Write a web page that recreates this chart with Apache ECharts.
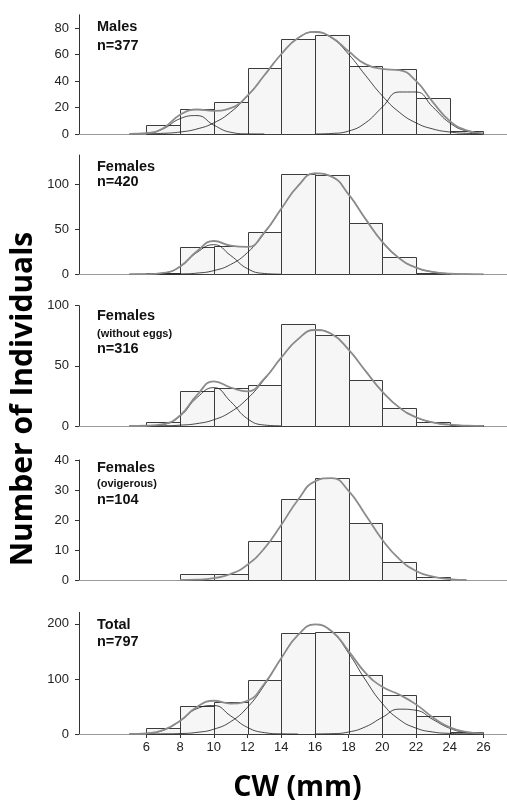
<!DOCTYPE html>
<html><head><meta charset="utf-8">
<script src="https://cdn.jsdelivr.net/npm/echarts@6/dist/echarts.min.js"></script>
<style>html,body{margin:0;padding:0;background:#fff;}#c{width:507px;height:802px;}</style>
</head><body><div id="c"></div>
<script>
// ---- histogram data (2 mm bins of carapace width) ----
const binStart = [6, 8, 10, 12, 14, 16, 18, 20, 22, 24];
const binWidth = 2;
const males       = [7, 19, 24, 50, 72, 75, 51, 49, 27, 2];
const females     = [2, 30, 32, 47, 112, 110, 57, 19, 2, 0];
const withoutEggs = [3, 29, 32, 34, 85, 76, 38, 15, 3, 1];
const ovigerous   = [0, 2, 2, 13, 27, 34, 19, 6, 1, 0];
const totalAll    = [10, 50, 58, 98, 183, 185, 108, 70, 32, 4];

// ---- fitted curves, read at 1 mm steps (null = not drawn) ----
const curveX = [5,6,7,8,9,10,11,12,13,14,15,16,17,18,19,20,21,22,23,24,25,26];
const maleA = [0.0,0.5,3.9,11.6,13.9,6.7,1.3,0.1,0.0,null,null,null,null,null,null,null,null,null,null,null,null,null];
const maleB = [0.0,0.2,0.5,1.5,3.8,8.4,16.5,28.8,44.3,60.2,72.4,77.0,72.4,60.2,44.3,28.8,16.5,8.4,3.8,1.5,0.5,0.2];
const maleC = [null,null,null,null,null,null,null,null,null,null,null,0.0,0.4,2.2,8.4,20.3,31.7,31.7,20.3,8.4,2.2,0.4];
const maleFit = [0.1,0.7,4.4,14.5,18.5,17.5,19.5,28.9,44.3,60.2,72.4,77.0,72.8,62.4,52.7,49.1,48.2,40.1,24.1,9.9,2.7,0.5];

const femA = [0.0,0.1,1.4,8.4,24.3,32.9,20.9,6.2,0.9,0.1,null,null,null,null,null,null,null,null,null,null,null,null];
const femB = [0.0,0.0,0.1,0.4,1.3,4.1,10.9,24.2,45.6,72.7,98.2,112.2,108.5,88.8,61.6,36.1,17.9,7.5,2.7,0.8,0.2,0.0];
const femFit = [0.0,0.1,1.5,8.8,25.6,37.0,31.8,30.4,46.5,72.8,98.2,112.2,108.5,88.8,61.6,36.1,17.9,7.5,2.7,0.8,0.2,0.0];

const woA = [0.0,0.1,1.3,8.2,23.6,31.9,20.3,6.0,0.8,0.1,null,null,null,null,null,null,null,null,null,null,null,null];
const woB = [0.0,0.1,0.2,0.7,2.0,5.2,11.7,22.8,38.6,56.7,72.2,79.8,76.4,63.5,45.8,28.6,15.5,7.3,3.0,1.1,0.3,0.1];
const woFit = [0.0,0.2,1.5,8.8,25.6,37.1,32.0,28.8,39.4,56.8,72.2,79.8,76.4,63.5,45.8,28.6,15.5,7.3,3.0,1.1,0.3,0.1];

const ovFit = [null,null,null,0.1,0.2,0.7,2.1,5.2,10.6,18.4,26.8,32.9,34.0,29.7,21.8,13.5,7.1,3.1,1.2,0.4,0.1,null];

const totA = [0.1,1.1,6.8,23.4,46.1,51.7,32.9,11.9,2.5,0.3,0.0,null,null,null,null,null,null,null,null,null,null,null];
const totB = [0.0,0.0,0.2,0.8,2.9,8.7,22.4,48.5,88.7,137.4,179.8,198.8,185.9,146.9,98.2,55.4,26.5,10.7,3.6,1.1,0.3,0.1];
const totC = [null,null,null,null,null,null,null,null,null,null,null,0.1,0.6,3.6,13.0,30.2,45.1,43.1,26.4,10.4,2.6,0.4];
const totFit = [0.1,1.2,7.0,24.2,49.0,60.4,55.3,60.4,91.2,137.7,179.8,198.9,186.5,150.5,111.2,85.6,71.6,53.8,30.0,12.0,4.0,1.0];

// ---- axis ticks ----
const xTickValues = [6,8,10,12,14,16,18,20,22,24,26];
const yTicks = [[0,20,40,60,80],[0,50,100],[0,50,100],[0,10,20,30,40],[0,100,200]];
const yMax = [90, 132.6, 100, 40, 221];

// ---- panel labels ----
const panelLabels = [
  [['Males','big'],['n=377','big']],
  [['Females','big'],['n=420','big']],
  [['Females','big'],['(without eggs)','small'],['n=316','big']],
  [['Females','big'],['(ovigerous)','small'],['n=104','big']],
  [['Total','big'],['n=797','big']]
];
const yTitle = 'Number of Individuals';
const xTitle = 'CW (mm)';

// ---- layout ----
const layout = [
  {top: 14.75, height: 119.25, labelY: [19.8, 38.8]},
  {top: 155,   height: 119.3,  labelY: [159.8, 174.8]},
  {top: 305.7, height: 120.3,  labelY: [308.1, 328.6, 341.4]},
  {top: 460,   height: 120.3,  labelY: [460.8, 478.5, 492.1]},
  {top: 612.3, height: 121.7,  labelY: [617.4, 634.8]}
];
const panelBars = [males, females, withoutEggs, ovigerous, totalAll];
const panelComps = [[maleA, maleB, maleC],[femA, femB],[woA, woB],[],[totA, totB, totC]];
const panelFits = [maleFit, femFit, woFit, ovFit, totFit];

const FONT = '"Liberation Sans", Arial, sans-serif';
const grids = [], xAxes = [], yAxes = [], series = [], graphics = [];

function toLine(arr){
  const d = [];
  curveX.forEach((x,i)=>{ if (arr[i] !== null) d.push([x, arr[i]]); });
  return d;
}

layout.forEach((L, p) => {
  const isLast = p === layout.length - 1;
  grids.push({left: 79, right: 0, top: L.top, height: L.height, containLabel: false});
  xAxes.push({
    type: 'value', gridIndex: p, min: 2, max: 27.4, interval: 2,
    splitLine: {show: false},
    axisLine: {show: true, lineStyle: {color: '#9a9a9a', width: 1}},
    axisTick: {show: isLast, length: 4, lineStyle: {color: '#333'}, customValues: xTickValues},
    axisLabel: {show: isLast, customValues: xTickValues, margin: 7, fontFamily: FONT, fontSize: 13, color: '#222',
      formatter: v => (xTickValues.indexOf(v) >= 0 ? String(v) : '')}
  });
  const yt = yTicks[p];
  yAxes.push({
    type: 'value', gridIndex: p, min: 0, max: yMax[p], interval: yt[1] - yt[0],
    splitLine: {show: false},
    axisLine: {show: true, lineStyle: {color: '#333', width: 1}},
    axisTick: {show: true, length: 4, lineStyle: {color: '#333'}, customValues: yt},
    axisLabel: {customValues: yt, margin: 10, fontFamily: FONT, fontSize: 13, color: '#222',
      formatter: v => (yt.indexOf(v) >= 0 ? String(v) : '')}
  });
  const barData = [];
  binStart.forEach((b, i) => { if (panelBars[p][i] > 0) barData.push([b, b + binWidth, panelBars[p][i]]); });
  series.push({
    type: 'custom', xAxisIndex: p, yAxisIndex: p, silent: true, z: 2,
    encode: {x: [0, 1], y: 2},
    data: barData,
    renderItem: function (params, api) {
      const a = api.coord([api.value(0), api.value(2)]);
      const b = api.coord([api.value(1), 0]);
      const x0 = Math.round(a[0]) + 0.5, x1 = Math.round(b[0]) + 0.5;
      const y0 = Math.round(a[1]) + 0.5, y1 = Math.round(b[1]) + 0.5;
      return {type: 'rect', shape: {x: x0, y: y0, width: x1 - x0, height: y1 - y0},
        style: {fill: '#f6f6f6', stroke: '#3c3c3c', lineWidth: 1}};
    }
  });
  panelComps[p].forEach(c => {
    series.push({type: 'line', xAxisIndex: p, yAxisIndex: p, data: toLine(c), smooth: 0.5,
      showSymbol: false, symbol: 'none', silent: true, z: 3,
      lineStyle: {color: '#1a1a1a', width: 0.8}});
  });
  series.push({type: 'line', xAxisIndex: p, yAxisIndex: p, data: toLine(panelFits[p]), smooth: 0.5,
    showSymbol: false, symbol: 'none', silent: true, z: 4,
    lineStyle: {color: '#8c8c8c', width: 1.8}});
  panelLabels[p].forEach((lab, k) => {
    graphics.push({type: 'text', x: 97, y: L.labelY[k], silent: true,
      style: {text: lab[0], fill: '#111', fontFamily: FONT, fontWeight: 'bold',
        fontSize: lab[1] === 'big' ? 14.5 : 11, verticalAlign: 'top', align: 'left'}});
  });
});

graphics.push({type: 'text', x: 23.5, y: 399, rotation: Math.PI / 2, silent: true,
  style: {text: yTitle, fill: '#000', fontFamily: '"Open Sans", sans-serif', fontWeight: 'bold', fontSize: 30,
    align: 'center', verticalAlign: 'middle'}});
graphics.push({type: 'text', x: 297.5, y: 787.5, silent: true,
  style: {text: xTitle, fill: '#000', fontFamily: '"Open Sans", sans-serif', fontWeight: 'bold', fontSize: 28.5,
    align: 'center', verticalAlign: 'middle'}});

const chart = echarts.init(document.getElementById('c'), null, {renderer: 'canvas'});
chart.setOption({
  animation: false,
  backgroundColor: '#fff',
  grid: grids, xAxis: xAxes, yAxis: yAxes, series: series, graphic: graphics
});
</script></body></html>
